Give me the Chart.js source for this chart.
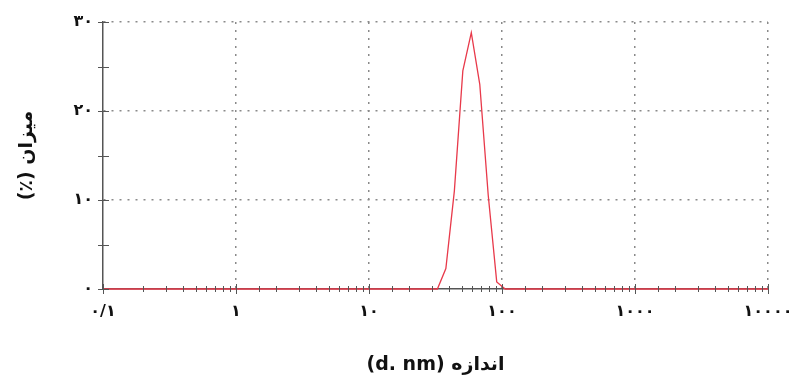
<!DOCTYPE html>
<html>
<head>
<meta charset="utf-8">
<script src="https://cdn.jsdelivr.net/npm/chart.js@4"></script>
<style>
  body { margin: 0; background: #fff; }
</style>
</head>
<body>
<canvas id="myChart" width="790" height="387"></canvas>
<script>
// size distribution (d. nm)
const sizes = [0.1, 28.21, 32.67, 37.84, 43.82, 50.75, 58.77, 68.06, 78.82, 91.28, 105.7, 10000];
const volume = [0, 0, 0, 2.3, 11, 24.5, 28.8, 23, 10.5, 0.8, 0, 0];

const xTickValues = [0.1, 1, 10, 100, 1000, 10000];
const xTickLabels = ['۰/۱', '۱', '۱۰', '۱۰۰', '۱۰۰۰', '۱۰۰۰۰'];
const yTickValues = [0, 10, 20, 30];
const yTickLabels = ['۰', '۱۰', '۲۰', '۳۰'];

const xTitle = '(d. nm) اندازه';
const yTitle = '(٪) میزان';

function majorX(v) {
    return xTickValues.findIndex(t => Math.abs(Math.log10(v) - Math.log10(t)) < 1e-6);
}
function majorY(v) {
    return yTickValues.findIndex(t => Math.abs(v - t) < 1e-6);
}

// tick marks that cross the axis lines
const tickMarks = {
    id: 'tickMarks',
    afterDraw(chart) {
        const ctx = chart.ctx;
        const xs = chart.scales.x, ys = chart.scales.y;
        ctx.save();
        ctx.strokeStyle = '#555';
        ctx.lineWidth = 1;
        ctx.beginPath();
        xs.ticks.forEach(t => {
            const px = Math.round(xs.getPixelForValue(t.value)) + 0.5;
            const h = majorX(t.value) >= 0 ? 5 : 3;
            ctx.moveTo(px, ys.bottom - h);
            ctx.lineTo(px, ys.bottom + h);
        });
        ys.ticks.forEach(t => {
            const py = Math.round(ys.getPixelForValue(t.value)) + 0.5;
            ctx.moveTo(xs.left - 5, py);
            ctx.lineTo(xs.left + 6, py);
        });
        ctx.stroke();
        ctx.restore();
    }
};

const ctx = document.getElementById('myChart').getContext('2d');
const myChart = new Chart(ctx, {
    type: 'line',
    data: {
        datasets: [{
            data: sizes.map((s, i) => ({ x: s, y: volume[i] })),
            borderColor: '#e8394a',
            borderWidth: 1.3,
            pointRadius: 0,
            tension: 0,
            fill: false,
            clip: 4
        }]
    },
    options: {
        responsive: false,
        animation: false,
        layout: { padding: { top: 22, right: 22, left: 0, bottom: 0 } },
        plugins: {
            legend: { display: false },
            tooltip: { enabled: false }
        },
        scales: {
            x: {
                type: 'logarithmic',
                min: 0.1,
                max: 10000,
                afterFit: s => { s.height = 98; s.paddingLeft = 0; s.paddingRight = 0; },
                border: { display: true, color: '#555', width: 1.5, dash: [2, 6] },
                grid: {
                    drawTicks: false,
                    color: c => (c.tick && majorX(c.tick.value) > 0) ? '#8a8a8a' : 'rgba(0,0,0,0)',
                    lineWidth: 1.5
                },
                ticks: {
                    autoSkip: false,
                    maxRotation: 0,
                    padding: 13,
                    color: '#111',
                    font: { family: 'DejaVu Sans', size: 16, weight: 'bold' },
                    callback: function(value) {
                        const i = majorX(value);
                        return i >= 0 ? xTickLabels[i] : '';
                    }
                },
                title: {
                    display: true,
                    text: xTitle,
                    color: '#111',
                    font: { family: 'DejaVu Sans', size: 19, weight: 'bold' },
                    padding: { top: 0, bottom: 11 }
                }
            },
            y: {
                min: 0,
                max: 30,
                afterFit: s => { s.width = 103; s.paddingTop = 0; s.paddingBottom = 0; },
                border: { display: true, color: '#555', width: 1.5, dash: [2, 6] },
                grid: {
                    drawTicks: false,
                    color: c => (c.tick && majorY(c.tick.value) > 0) ? '#8a8a8a' : 'rgba(0,0,0,0)',
                    lineWidth: 1.5
                },
                ticks: {
                    stepSize: 5,
                    padding: 10,
                    color: '#111',
                    font: { family: 'DejaVu Sans', size: 16, weight: 'bold' },
                    callback: function(value) {
                        const i = majorY(value);
                        return i >= 0 ? yTickLabels[i] : '';
                    }
                },
                title: {
                    display: true,
                    text: yTitle,
                    color: '#111',
                    font: { family: 'DejaVu Sans', size: 19, weight: 'bold' },
                    padding: { top: 16, bottom: 0 }
                }
            }
        }
    },
    plugins: [tickMarks]
});
</script>
</body>
</html>
